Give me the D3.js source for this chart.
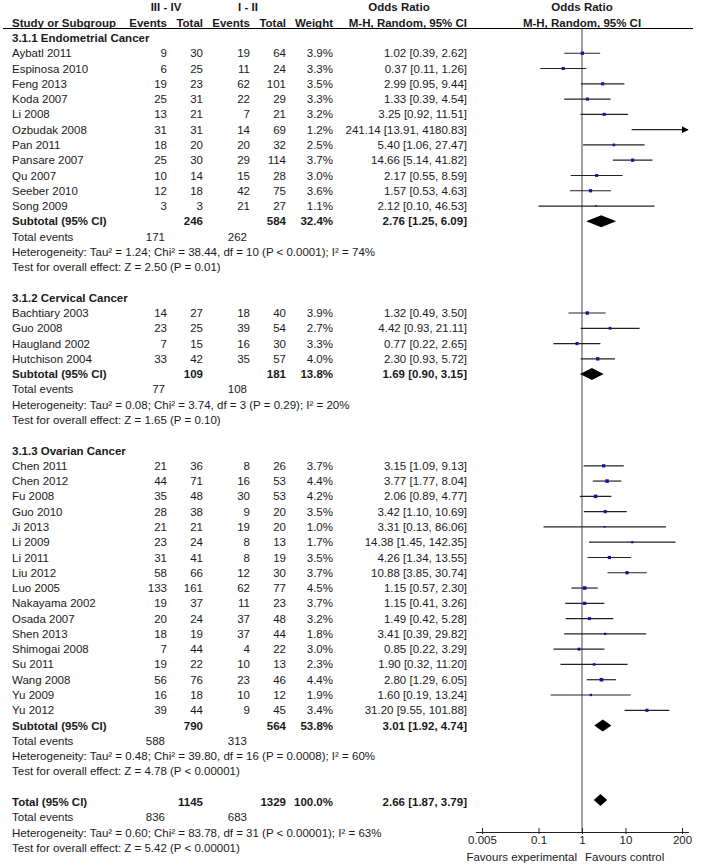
<!DOCTYPE html>
<html>
<head>
<meta charset="utf-8">
<script src="https://cdn.jsdelivr.net/npm/d3@7"></script>
<style>
  body { margin: 0; background: #fff; }
  svg text { font-family: "Liberation Sans", Arial, sans-serif; font-size: 11.5px; fill: #1a1a1a; }
  .b { font-weight: bold; }
</style>
</head>
<body>
<svg id="chart" width="701" height="865"></svg>
<script>
// groups and studies
var groupNames = ["3.1.1 Endometrial Cancer", "3.1.2 Cervical Cancer", "3.1.3 Ovarian Cancer"];
var studyNames = ["Aybatl 2011", "Espinosa 2010", "Feng 2013", "Koda 2007", "Li 2008", "Ozbudak 2008",
  "Pan 2011", "Pansare 2007", "Qu 2007", "Seeber 2010", "Song 2009",
  "Bachtiary 2003", "Guo 2008", "Haugland 2002", "Hutchison 2004",
  "Chen 2011", "Chen 2012", "Fu 2008", "Guo 2010", "Ji 2013", "Li 2009", "Li 2011", "Liu 2012",
  "Luo 2005", "Nakayama 2002", "Osada 2007", "Shen 2013", "Shimogai 2008", "Su 2011",
  "Wang 2008", "Yu 2009", "Yu 2012"];
var studyGroup = [0,0,0,0,0,0,0,0,0,0,0, 1,1,1,1, 2,2,2,2,2,2,2,2,2,2,2,2,2,2,2,2,2];
var eventsExp = [9,6,19,25,13,31,18,25,10,12,3, 14,23,7,33, 21,44,35,28,21,23,31,58,133,19,20,18,7,19,56,16,39];
var totalExp  = [30,25,23,31,21,31,20,30,14,18,3, 27,25,15,42, 36,71,48,38,21,24,41,66,161,37,24,19,44,22,76,18,44];
var eventsCtl = [19,11,62,22,7,14,20,29,15,42,21, 18,39,16,35, 8,16,30,9,19,8,8,12,62,11,37,37,4,10,23,10,9];
var totalCtl  = [64,24,101,29,21,69,32,114,28,75,27, 40,54,30,57, 26,53,53,20,20,13,19,30,77,23,48,44,22,13,46,12,45];
var weights   = [3.9,3.3,3.5,3.3,3.2,1.2,2.5,3.7,3.0,3.6,1.1, 3.9,2.7,3.3,4.0,
  3.7,4.4,4.2,3.5,1.0,1.7,3.5,3.7,4.5,3.7,3.2,1.8,3.0,2.3,4.4,1.9,3.4];
var orEst  = [1.02,0.37,2.99,1.33,3.25,241.14,5.40,14.66,2.17,1.57,2.12, 1.32,4.42,0.77,2.30,
  3.15,3.77,2.06,3.42,3.31,14.38,4.26,10.88,1.15,1.15,1.49,3.41,0.85,1.90,2.80,1.60,31.20];
var orLow  = [0.39,0.11,0.95,0.39,0.92,13.91,1.06,5.14,0.55,0.53,0.10, 0.49,0.93,0.22,0.93,
  1.09,1.77,0.89,1.10,0.13,1.45,1.34,3.85,0.57,0.41,0.42,0.39,0.22,0.32,1.29,0.19,9.55];
var orHigh = [2.62,1.26,9.44,4.54,11.51,4180.83,27.47,41.82,8.59,4.63,46.53, 3.50,21.11,2.65,5.72,
  9.13,8.04,4.77,10.69,86.06,142.35,13.55,30.74,2.30,3.26,5.28,29.82,3.29,11.20,6.05,13.24,101.88];

// subtotals per group
var subTotalExp = [246, 109, 790];
var subTotalCtl = [584, 181, 564];
var subWeight = [32.4, 13.8, 53.8];
var subOr = [2.76, 1.69, 3.01];
var subLow = [1.25, 0.90, 1.92];
var subHigh = [6.09, 3.15, 4.74];
var subEventsExp = [171, 77, 588];
var subEventsCtl = [262, 108, 313];
var subHetero = [
  "Heterogeneity: Tau\u00b2 = 1.24; Chi\u00b2 = 38.44, df = 10 (P < 0.0001); I\u00b2 = 74%",
  "Heterogeneity: Tau\u00b2 = 0.08; Chi\u00b2 = 3.74, df = 3 (P = 0.29); I\u00b2 = 20%",
  "Heterogeneity: Tau\u00b2 = 0.48; Chi\u00b2 = 39.80, df = 16 (P = 0.0008); I\u00b2 = 60%"];
var subTest = [
  "Test for overall effect: Z = 2.50 (P = 0.01)",
  "Test for overall effect: Z = 1.65 (P = 0.10)",
  "Test for overall effect: Z = 4.78 (P < 0.00001)"];

// overall
var allTotals = [1145, 1329];
var allWeight = 100.0;
var allOr = [2.66, 1.87, 3.79];
var allEvents = [836, 683];
var allHetero = "Heterogeneity: Tau\u00b2 = 0.60; Chi\u00b2 = 83.78, df = 31 (P < 0.00001); I\u00b2 = 63%";
var allTest = "Test for overall effect: Z = 5.42 (P < 0.00001)";

var tickValues = [0.005, 0.1, 1, 10, 200];
var tickLabels = ["0.005", "0.1", "1", "10", "200"];

var svg = d3.select("#chart");
var f2 = d3.format(".2f"), f1 = d3.format(".1f");

// column anchors
var col = { name: 12, ev1: 167, tot1: 203, ev2: 250, tot2: 286, w: 333, or: 467 };

var x = d3.scaleLog().domain([0.005, 200]).range([482, 682]);
var rowY = function(i) { return 7.4 + 15.28 * i; };
var size = d3.scaleSqrt().domain([0, 4.5]).range([0, 3.6]);

function txt(xp, yp, s, anchor, bold) {
  svg.append("text")
    .attr("x", xp).attr("y", yp).attr("dy", "0.35em")
    .attr("text-anchor", anchor || "start")
    .attr("class", bold ? "b" : null)
    .text(s);
}

function orText(o, l, h) { return f2(o) + " [" + f2(l) + ", " + f2(h) + "]"; }

function diamond(yp, o, l, h) {
  var pts = [[x(l), yp], [x(o), yp - 6], [x(h), yp], [x(o), yp + 6]];
  svg.append("polygon").attr("points", pts.map(function(p) { return p.join(","); }).join(" "))
    .attr("fill", "#000");
}

// header
txt(166, rowY(0), "III - IV", "middle", true);
txt(248, rowY(0), "I - II", "middle", true);
txt(399, rowY(0), "Odds Ratio", "middle", true);
txt(x(1), rowY(0), "Odds Ratio", "middle", true);
txt(col.name, rowY(1), "Study or Subgroup", "start", true);
txt(col.ev1, rowY(1), "Events", "end", true);
txt(col.tot1, rowY(1), "Total", "end", true);
txt(col.ev2, rowY(1), "Events", "end", true);
txt(col.tot2, rowY(1), "Total", "end", true);
txt(col.w, rowY(1), "Weight", "end", true);
txt(col.or, rowY(1), "M-H, Random, 95% CI", "end", true);
txt(x(1), rowY(1), "M-H, Random, 95% CI", "middle", true);

svg.append("line").attr("x1", 3).attr("x2", 693).attr("y1", 28.5).attr("y2", 28.5)
  .attr("stroke", "#000").attr("stroke-width", 1);

var axisY = 832;

// line of no effect
svg.append("line").attr("x1", x(1)).attr("x2", x(1)).attr("y1", 28.5).attr("y2", axisY)
  .attr("stroke", "#444").attr("stroke-width", 1);

var defs = svg.append("defs");
defs.append("marker").attr("id", "arr").attr("viewBox", "0 0 10 10")
  .attr("refX", 9).attr("refY", 5).attr("markerWidth", 7).attr("markerHeight", 7)
  .attr("orient", "auto").attr("markerUnits", "userSpaceOnUse")
  .append("path").attr("d", "M0,0L10,5L0,10z").attr("fill", "#000");

var r = 2;
groupNames.forEach(function(g, gi) {
  txt(col.name, rowY(r), g, "start", true);
  r++;
  studyNames.forEach(function(s, i) {
    if (studyGroup[i] !== gi) return;
    var y = rowY(r);
    txt(col.name, y, s);
    txt(col.ev1, y, eventsExp[i], "end");
    txt(col.tot1, y, totalExp[i], "end");
    txt(col.ev2, y, eventsCtl[i], "end");
    txt(col.tot2, y, totalCtl[i], "end");
    txt(col.w, y, f1(weights[i]) + "%", "end");
    txt(col.or, y, orText(orEst[i], orLow[i], orHigh[i]), "end");

    var lo = Math.max(orLow[i], 0.005), hi = orHigh[i];
    var over = hi > 200;
    svg.append("line")
      .attr("x1", x(lo)).attr("x2", over ? x(200) + 6 : x(hi))
      .attr("y1", y).attr("y2", y)
      .attr("stroke", "#222").attr("stroke-width", 1.2)
      .attr("marker-end", over ? "url(#arr)" : null);
    if (orEst[i] <= 200) {
      var sz = size(weights[i]);
      svg.append("rect")
        .attr("x", x(orEst[i]) - sz / 2).attr("y", y - sz / 2)
        .attr("width", sz).attr("height", sz)
        .attr("fill", "#1414a8");
    }
    r++;
  });
  var y = rowY(r);
  txt(col.name, y, "Subtotal (95% CI)", "start", true);
  txt(col.tot1, y, subTotalExp[gi], "end", true);
  txt(col.tot2, y, subTotalCtl[gi], "end", true);
  txt(col.w, y, f1(subWeight[gi]) + "%", "end", true);
  txt(col.or, y, orText(subOr[gi], subLow[gi], subHigh[gi]), "end", true);
  diamond(y, subOr[gi], subLow[gi], subHigh[gi]);
  r++;
  txt(col.name, rowY(r), "Total events");
  txt(165, rowY(r), subEventsExp[gi], "end");
  txt(247, rowY(r), subEventsCtl[gi], "end");
  r++;
  txt(col.name, rowY(r), subHetero[gi]);
  r++;
  txt(col.name, rowY(r), subTest[gi]);
  r += 2;
});

// overall
var yT = rowY(r);
txt(col.name, yT, "Total (95% CI)", "start", true);
txt(col.tot1, yT, allTotals[0], "end", true);
txt(col.tot2, yT, allTotals[1], "end", true);
txt(col.w, yT, f1(allWeight) + "%", "end", true);
txt(col.or, yT, orText(allOr[0], allOr[1], allOr[2]), "end", true);
diamond(yT - 2, allOr[0], allOr[1], allOr[2]);
r++;
txt(col.name, rowY(r), "Total events");
txt(165, rowY(r), allEvents[0], "end");
txt(247, rowY(r), allEvents[1], "end");
r++;
txt(col.name, rowY(r), allHetero);
r++;
txt(col.name, rowY(r), allTest);

// axis
var axis = d3.axisBottom(x).tickValues(tickValues)
  .tickFormat(function(d, i) { return tickLabels[i]; })
  .tickSize(2).tickSizeOuter(0).tickPadding(2);
var ga = svg.append("g").attr("transform", "translate(0," + axisY + ")").call(axis);
ga.select(".domain").remove();
ga.append("line").attr("x1", x(0.005) - 6).attr("x2", x(200) + 7).attr("y1", 0.5).attr("y2", 0.5)
  .attr("stroke", "#222");
ga.selectAll(".tick line").attr("y1", -4).attr("stroke", "#222");
ga.selectAll(".tick text").style("font-family", "Liberation Sans, Arial, sans-serif")
  .style("font-size", "11.5px").attr("fill", "#1a1a1a");

txt(x(1) - 5, 857, "Favours experimental", "end");
txt(x(1) + 3, 857, "Favours control", "start");
</script>
</body>
</html>
